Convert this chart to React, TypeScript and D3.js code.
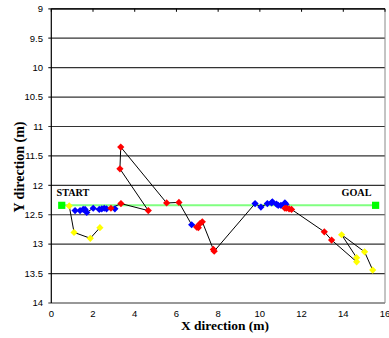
import React from "react";
import * as d3 from "d3";

const xTicks = [0, 2, 4, 6, 8, 10, 12, 14, 16];
const yTicks = [9, 9.5, 10, 10.5, 11, 11.5, 12, 12.5, 13, 13.5, 14];

// planned straight route
const routeX = [0.5, 15.55];
const routeY = [12.34, 12.34];

// trace 1 (yellow)
const trace1X = [0.86, 1.09, 1.87, 2.33];
const trace1Y = [12.35, 12.8, 12.9, 12.72];
const trace1C = ["y", "y", "y", "y"];

// trace 2 (mixed status)
const trace2X = [
  1.14, 1.38, 1.53, 1.62, 1.7, 2.01, 2.3, 2.42, 2.54, 2.65, 3.05, 2.86, 3.34, 4.65, 3.29, 3.33, 5.53, 6.12,
  6.73, 6.97, 7.05, 7.13, 7.24, 7.77, 7.81, 9.77, 10.05, 10.36, 10.56, 10.6, 10.8, 10.88, 11.01, 11.2, 11.25,
  11.2, 11.28, 11.4, 11.52, 13.09, 13.44, 14.64, 14.64, 13.92, 15.02, 15.41,
];
const trace2Y = [
  12.43, 12.43, 12.41, 12.41, 12.46, 12.39, 12.41, 12.4, 12.39, 12.4, 12.4, 12.39, 12.31, 12.43, 11.72, 11.35,
  12.3, 12.29, 12.67, 12.71, 12.72, 12.65, 12.62, 13.09, 13.12, 12.31, 12.37, 12.31, 12.3, 12.28, 12.32, 12.34,
  12.34, 12.3, 12.32, 12.39, 12.39, 12.4, 12.41, 12.79, 12.93, 13.3, 13.23, 12.84, 13.13, 13.44,
];
const trace2C = [
  "b", "b", "b", "b", "b", "b", "b", "b", "b", "b", "b", "r", "r", "r", "r", "r", "r", "r",
  "b", "r", "r", "r", "r", "r", "r", "b", "b", "b", "b", "b", "b", "b", "b", "b", "b",
  "r", "r", "r", "r", "r", "r", "y", "y", "y", "y", "y",
];

const colorMap: Record<string, string> = { y: "#ffff00", b: "#0000ff", r: "#ff0000" };

const W = 389;
const H = 338;

export default function App() {
  const x = d3.scaleLinear().domain([0, 16]).range([51.3, 385]);
  const y = d3.scaleLinear().domain([9, 14]).range([8.8, 303]);
  const line = d3
    .line<[number, number]>()
    .x((d) => x(d[0]))
    .y((d) => y(d[1]));

  const traces = [
    { xs: trace1X, ys: trace1Y, cs: trace1C },
    { xs: trace2X, ys: trace2Y, cs: trace2C },
  ];

  const diamond = (cx: number, cy: number, r: number) =>
    `M${cx},${cy - r}L${cx + r},${cy}L${cx},${cy + r}L${cx - r},${cy}Z`;

  const x0 = x(0);
  const x1 = x(16);

  return (
    <svg
      width={W}
      height={H}
      style={{ position: "absolute", left: 0, top: 0, background: "#fff" }}
      fontFamily="'Liberation Sans', Arial, sans-serif"
    >
      {/* gridlines */}
      {yTicks.map((t) => (
        <line key={"g" + t} x1={x0 - 3} x2={x1} y1={y(t)} y2={y(t)} stroke="#333" strokeWidth={1.2} />
      ))}
      {/* axes */}
      <line x1={x0} x2={x0} y1={y(9)} y2={y(14)} stroke="#000" strokeWidth={1.2} />
      <line x1={x1} x2={x1} y1={y(9)} y2={y(14)} stroke="#888" strokeWidth={1} />
      <line x1={x0} x2={x1} y1={y(9)} y2={y(9)} stroke="#000" strokeWidth={1.2} />
      {xTicks.map((t) => (
        <line key={"xt" + t} x1={x(t)} x2={x(t)} y1={y(9)} y2={y(9) + 3} stroke="#000" strokeWidth={1} />
      ))}
      {/* tick labels */}
      {yTicks.map((t) => (
        <text key={"yl" + t} x={43} y={y(t)} dy="0.35em" textAnchor="end" fontSize={9.5} fill="#000">
          {t}
        </text>
      ))}
      {xTicks.map((t) => (
        <text key={"xl" + t} x={x(t)} y={316.5} textAnchor="middle" fontSize={9.5} fill="#000">
          {t}
        </text>
      ))}
      {/* route */}
      <path
        d={line(routeX.map((v, i) => [v, routeY[i]] as [number, number])) || ""}
        stroke="#80ff80"
        strokeWidth={2}
        fill="none"
      />
      {/* traces */}
      {traces.map((tr, k) => (
        <path
          key={"tr" + k}
          d={line(tr.xs.map((v, i) => [v, tr.ys[i]] as [number, number])) || ""}
          stroke="#000"
          strokeWidth={1}
          fill="none"
        />
      ))}
      {traces.map((tr, k) =>
        tr.xs.map((v, i) => (
          <path key={"m" + k + "-" + i} d={diamond(x(v), y(tr.ys[i]), 3.6)} fill={colorMap[tr.cs[i]]} />
        ))
      )}
      {routeX.map((v, i) => (
        <rect key={"sq" + i} x={x(v) - 3.6} y={y(routeY[i]) - 3.6} width={7.2} height={7.2} fill="#00ff00" />
      ))}
      {/* labels */}
      <text x={56.5} y={195.7} fontFamily="'Liberation Serif', 'Times New Roman', serif" fontWeight="bold" fontSize={10.2}>
        START
      </text>
      <text x={341.5} y={195.7} fontFamily="'Liberation Serif', 'Times New Roman', serif" fontWeight="bold" fontSize={10.2}>
        GOAL
      </text>
      <text
        x={225}
        y={330}
        textAnchor="middle"
        fontFamily="'Liberation Serif', 'Times New Roman', serif"
        fontWeight="bold"
        fontSize={13.5}
      >
        X direction (m)
      </text>
      <text
        transform={`translate(24,167) rotate(-90)`}
        textAnchor="middle"
        fontFamily="'Liberation Serif', 'Times New Roman', serif"
        fontWeight="bold"
        fontSize={14}
      >
        Y direction (m)
      </text>
    </svg>
  );
}
